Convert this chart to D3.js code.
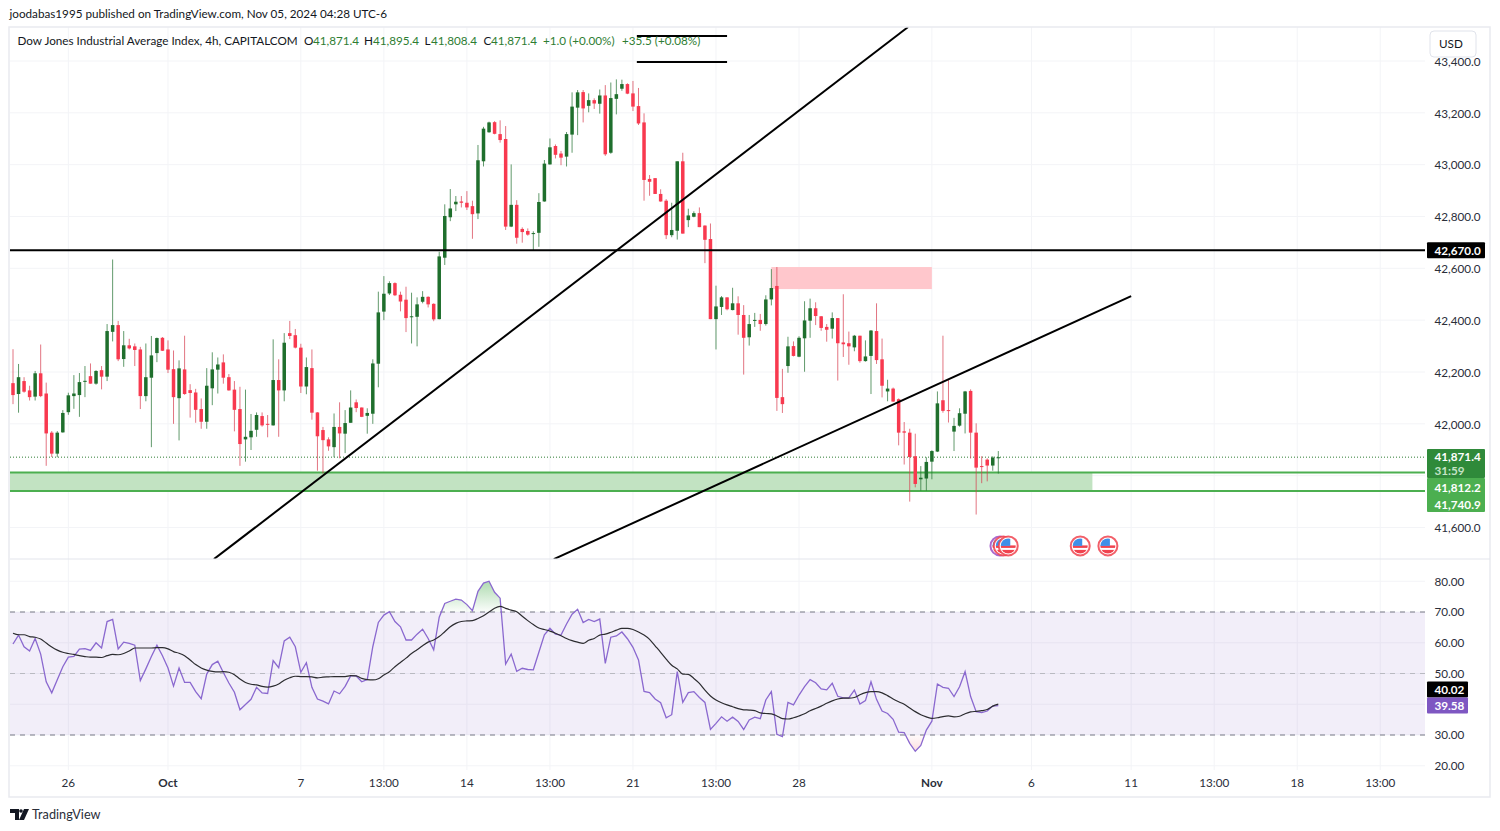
<!DOCTYPE html>
<html>
<head>
<meta charset="utf-8">
<script src="https://cdn.jsdelivr.net/npm/d3@7/dist/d3.min.js"></script>
<style>
html,body{margin:0;padding:0;background:#fff;}
svg{display:block;}
text{font-family:Lato,sans-serif;font-size:11.7px;fill:#131722;}
</style>
</head>
<body>
<div id="viz"></div>
<script>
var opens = [42157,42115,42165,42129,42105,42195,42117,41966,41885,41967,
42045,42107,42111,42162,42184,42155,42207,42182,42355,42381,
42250,42303,42299,42287,42107,42178,42273,42332,42287,42211,
42099,42210,42130,42121,42057,42008,42137,42209,42237,42180,
42132,42057,41940,41948,41977,42030,42000,41994,42169,42129,
42350,42342,42294,42144,42215,42044,41976,41940,41910,41988,
41962,42004,42083,42063,42031,42039,42232,42433,42503,42543,
42498,42479,42412,42413,42471,42490,42463,42404,42641,42797,
42847,42858,42853,42840,42812,43013,43125,43164,43118,43099,
42761,42845,42752,42744,42734,42737,42858,43001,43072,43043,
43031,43116,43220,43280,43227,43249,43235,43267,43046,43254,
43293,43311,43275,43226,43163,42945,42948,42887,42861,42728,
42745,43013,42786,42799,42813,42765,42713,42404,42451,42488,
42439,42465,42420,42334,42398,42401,42385,42480,42532,42103,
42223,42300,42259,42330,42398,42446,42415,42374,42367,42408,
42314,42311,42295,42340,42242,42262,42358,42249,42125,42136,
42095,41971,41966,41875,41786,41789,41854,41893,42091,42053,
41970,41993,42039,42127,41966,41837,41862,41839,41871];
var highs = [42288,42231,42180,42147,42204,42306,42159,41972,41972,42053,
42120,42188,42196,42223,42233,42207,42223,42385,42634,42397,
42358,42328,42310,42297,42310,42339,42333,42335,42322,42283,
42245,42340,42153,42135,42098,42215,42276,42256,42268,42192,
42165,42143,42132,42038,42044,42044,42034,42326,42249,42350,
42397,42366,42309,42256,42287,42045,41988,41948,42040,42083,
42053,42129,42094,42063,42060,42249,42510,42570,42550,42546,
42510,42529,42506,42488,42512,42492,42465,42664,42847,42906,
42879,42879,42898,42861,43076,43146,43166,43168,43171,43149,
43001,42863,42758,42754,42743,42890,43018,43101,43078,43053,
43126,43279,43288,43288,43275,43256,43290,43307,43317,43329,
43328,43314,43323,43296,43198,42960,42948,42905,42867,42853,
43013,43046,42830,42820,42835,42766,42773,42533,42493,42488,
42525,42492,42458,42420,42428,42424,42496,42597,42605,42212,
42336,42318,42338,42473,42483,42469,42416,42385,42430,42408,
42500,42356,42343,42340,42322,42362,42465,42329,42170,42140,
42098,42007,41981,41962,41837,41871,41898,42125,42340,42172,
42023,42060,42127,42133,42002,41875,41867,41875,41895];
var lows = [42076,42043,42120,42090,42090,42103,41838,41872,41871,41966,
42035,42058,42027,42103,42155,42151,42133,42165,42318,42242,
42220,42287,42223,42057,42087,41910,42238,42281,42196,42000,
41936,42112,42024,42004,41981,41981,42072,42117,42155,42128,
41971,41838,41854,41899,41950,41989,41948,41993,41950,42087,
42327,42291,42119,42114,42016,41819,41809,41896,41871,41867,
41887,42004,42045,42026,41962,42000,42141,42400,42497,42493,
42434,42354,42310,42299,42465,42449,42396,42403,42613,42782,
42821,42835,42825,42714,42790,42993,43123,43117,43085,42748,
42759,42695,42699,42726,42671,42683,42857,43000,43024,42998,
42993,43046,43114,43163,43202,43215,43197,43034,43042,43194,
43285,43272,43207,43153,42861,42880,42887,42857,42713,42720,
42711,42734,42759,42797,42759,42620,42404,42287,42420,42438,
42438,42344,42190,42302,42374,42359,42379,42457,42050,42042,
42197,42260,42257,42201,42332,42381,42359,42317,42329,42167,
42258,42228,42280,42236,42240,42115,42231,42102,42087,42084,
41917,41843,41700,41755,41742,41742,41786,41891,42043,42005,
41895,41989,41963,41866,41650,41771,41778,41819,41808];
var closes = [42111,42180,42124,42103,42195,42107,41963,41885,41966,42042,
42110,42117,42161,42166,42155,42204,42182,42358,42381,42249,
42303,42291,42285,42107,42180,42264,42331,42282,42209,42103,
42214,42115,42119,42054,42008,42147,42210,42229,42178,42129,
42054,41922,41950,41973,42034,41994,41997,42169,42129,42313,
42339,42294,42144,42219,42043,41952,41937,41913,41988,41963,
42003,42063,42061,42027,42042,42233,42430,42502,42543,42496,
42472,42408,42415,42461,42490,42461,42403,42646,42802,42831,
42857,42853,42835,42809,43017,43139,43163,43119,43095,42761,
42845,42718,42740,42730,42736,42856,43004,43067,43038,43027,
43118,43224,43279,43217,43249,43236,43267,43040,43257,43272,
43311,43274,43224,43159,42941,42934,42887,42858,42728,42748,
43013,42734,42804,42813,42759,42710,42404,42453,42488,42442,
42465,42420,42332,42385,42401,42385,42480,42524,42100,42076,
42299,42262,42332,42399,42446,42416,42370,42363,42408,42311,
42307,42299,42340,42242,42260,42360,42246,42147,42136,42086,
41966,41966,41872,41768,41792,41853,41895,42079,42050,42051,
41992,42041,42125,41966,41831,41835,41839,41870,41871];

var rsi = [59.6,62.5,58.7,57.3,61.4,56.3,47.3,43.7,48.0,52.2,55.3,55.6,57.9,58.1,57.5,60.0,58.3,66.9,67.6,58.0,
60.2,59.8,59.2,47.7,51.5,55.5,59.2,55.8,51.8,45.9,51.8,47.1,47.1,44.1,41.8,49.8,52.9,54.0,50.3,46.9,
43.9,38.2,39.9,41.6,45.5,43.7,43.5,54.2,51.9,60.6,61.8,58.7,50.4,53.5,45.5,41.7,41.0,40.1,44.3,43.4,
45.8,49.2,49.2,47.3,48.0,58.7,66.6,69.0,70.1,66.9,65.2,60.9,60.9,62.8,64.4,61.4,57.7,68.3,72.8,73.5,
74.2,73.9,72.4,70.4,76.7,79.4,80.0,76.4,74.5,53.1,56.3,50.7,51.7,51.3,51.2,56.9,62.6,64.7,62.8,62.5,
66.1,69.3,70.9,66.6,67.6,66.9,67.7,53.3,61.8,62.2,63.5,61.3,58.5,54.4,44.2,43.8,41.7,40.5,35.6,36.6,
50.6,40.6,43.8,44.1,42.2,40.6,31.8,33.8,35.9,34.5,35.8,34.4,31.8,34.9,35.8,35.3,41.4,44.1,30.2,29.5,
40.6,39.8,43.0,45.7,48.0,47.0,45.0,44.7,46.8,42.6,42.1,42.1,44.6,40.1,41.2,47.3,41.6,37.8,37.0,35.1,
30.9,30.8,27.3,24.7,26.6,31.6,34.5,46.6,45.5,45.2,42.5,45.7,50.6,42.5,37.6,37.3,37.8,39.4,39.58];
var rsiMa = [63.1,62.6,62.6,62.0,61.8,61.2,59.9,58.6,57.6,56.9,56.5,56.2,55.8,55.5,55.3,55.3,55.2,55.8,56.2,56.1,
56.5,57.3,58.3,58.3,58.3,58.3,58.4,58.4,58.0,57.1,56.6,55.8,54.4,52.9,51.8,51.1,50.7,50.5,50.6,50.4,
49.6,48.2,47.1,46.5,46.3,45.8,45.6,45.9,46.6,47.8,48.6,49.1,49.0,49.0,48.9,48.6,48.8,48.9,49.0,49.0,
49.0,49.3,49.2,48.4,48.0,47.9,48.3,49.5,50.6,52.2,53.6,55.0,56.5,57.7,59.0,60.2,60.9,62.0,63.6,65.2,
66.3,66.9,67.1,67.2,67.9,68.8,70.0,71.2,71.8,71.2,70.6,70.1,68.6,67.2,65.9,64.8,64.3,63.8,63.1,62.3,
61.4,60.7,60.2,59.8,60.8,61.4,62.5,62.8,63.4,64.1,64.7,64.7,64.3,63.5,62.5,61.1,59.0,56.9,54.7,52.7,
51.5,49.8,49.7,48.4,46.8,44.6,42.7,41.4,40.5,39.8,39.2,38.6,38.2,38.1,37.9,37.2,37.0,36.9,36.2,35.3,
35.2,35.6,36.2,36.9,37.9,38.6,39.4,40.3,41.1,41.7,42.0,42.0,42.2,43.1,43.8,44.1,44.1,43.7,42.8,41.7,
40.8,40.0,38.8,37.6,36.6,35.9,35.4,35.6,36.0,36.2,35.9,36.1,36.9,37.5,37.7,37.9,38.3,39.4,40.02];

var timeBars = [10,28,52,67,82,97,112,127,142,166,184,202,217,232,247];
var timeLabels = ['26','Oct','7','13:00','14','13:00','21','13:00','28','Nov','6','11','13:00','18','13:00'];
var priceTicks = [41600,41800,42000,42200,42400,42600,42800,43000,43200,43400];
var rsiTicks = [20,30,40,50,60,70,80];

// drawings on the chart: [bar, price] ends
var trendA = [[36.3,41478],[161.7,43531]];
var trendB = [[97.7,41478],[202,42493]];
var shortLines = [[[112.7,43496],[129,43496]],[[112.7,43396],[129,43396]]];
var resistance = 42670;
var lastPrice = 41871.4;
var zoneTop = 41812.2, zoneBottom = 41740.9, zoneEndBar = 195;
var pinkBars = [137,166], pinkPrices = [42605,42520];
var eventBars = [178.3,178.9,179.8,192.8,197.8];
var eventColors = ['#9c4fc4','#f0434f','#f0434f','#f0434f','#f0434f'];
var eventPrice = 41529;

var legendParts = [
  {x:17.5,t:'Dow Jones Industrial Average Index, 4h, CAPITALCOM',c:'#131722'},
  {x:304,t:'O',c:'#131722'},{x:313,t:'41,871.4',c:'#2e7d32'},
  {x:364,t:'H',c:'#131722'},{x:373,t:'41,895.4',c:'#2e7d32'},
  {x:424.5,t:'L',c:'#131722'},{x:431,t:'41,808.4',c:'#2e7d32'},
  {x:483.5,t:'C',c:'#131722'},{x:491,t:'41,871.4',c:'#2e7d32'},
  {x:543,t:'+1.0 (+0.00%)',c:'#2e7d32'},{x:622,t:'+35.5 (+0.08%)',c:'#2e7d32'}
];

var green = '#1f6f2d', red = '#f8394f';
var paneL = 10, paneR = 1425, paneT = 27, paneB = 559, rsiB = 770, frameR = 1490, frameB = 797;

var svg = d3.select('#viz').append('svg').attr('width',1500).attr('height',831);
var defs = svg.append('defs');

var x = d3.scaleLinear().domain([0,178]).range([13,998.3]);
var y = d3.scaleLinear().domain([41600,43400]).range([527.5,61]);
var ry = d3.scaleLinear().domain([30,70]).range([735,612]);
var fmt = d3.format(',.1f');

defs.append('clipPath').attr('id','priceClip').append('rect')
  .attr('x',paneL).attr('y',paneT).attr('width',paneR-paneL).attr('height',paneB-paneT);
defs.append('clipPath').attr('id','above70').append('rect')
  .attr('x',paneL).attr('y',560).attr('width',paneR-paneL).attr('height',ry(70)-560);
defs.append('clipPath').attr('id','below30').append('rect')
  .attr('x',paneL).attr('y',ry(30)).attr('width',paneR-paneL).attr('height',rsiB-ry(30));
var gradG = defs.append('linearGradient').attr('id','obFill').attr('x1',0).attr('x2',0).attr('y1',ry(80)).attr('y2',ry(70)).attr('gradientUnits','userSpaceOnUse');
gradG.append('stop').attr('offset',0).attr('stop-color','#4caf50').attr('stop-opacity',0.45);
gradG.append('stop').attr('offset',1).attr('stop-color','#4caf50').attr('stop-opacity',0.02);
var gradR = defs.append('linearGradient').attr('id','osFill').attr('x1',0).attr('x2',0).attr('y1',ry(30)).attr('y2',ry(20)).attr('gradientUnits','userSpaceOnUse');
gradR.append('stop').attr('offset',0).attr('stop-color','#f23645').attr('stop-opacity',0.02);
gradR.append('stop').attr('offset',1).attr('stop-color','#f23645').attr('stop-opacity',0.3);

// header
svg.append('text').attr('x',9.5).attr('y',18).text('joodabas1995 published on TradingView.com, Nov 05, 2024 04:28 UTC-6');

// grid
var grid = svg.append('g').attr('stroke','#f3f4f7').attr('stroke-width',1);
grid.selectAll('.v').data(timeBars).enter().append('line')
  .attr('x1',function(d){return x(d);}).attr('x2',function(d){return x(d);})
  .attr('y1',paneT).attr('y2',rsiB);
grid.selectAll('.h').data(priceTicks).enter().append('line')
  .attr('x1',paneL).attr('x2',paneR)
  .attr('y1',function(d){return y(d);}).attr('y2',function(d){return y(d);});
grid.selectAll('.r').data(rsiTicks).enter().append('line')
  .attr('x1',paneL).attr('x2',paneR)
  .attr('y1',function(d){return ry(d);}).attr('y2',function(d){return ry(d);});

// price pane
var pane = svg.append('g').attr('clip-path','url(#priceClip)');

pane.append('rect')
  .attr('x',x(pinkBars[0])).attr('width',x(pinkBars[1])-x(pinkBars[0]))
  .attr('y',y(pinkPrices[0])).attr('height',y(pinkPrices[1])-y(pinkPrices[0]))
  .attr('fill','#ffc7cc');

pane.append('rect')
  .attr('x',paneL).attr('width',x(zoneEndBar)-paneL)
  .attr('y',y(zoneTop)).attr('height',y(zoneBottom)-y(zoneTop))
  .attr('fill','#c2e3c2');
[zoneTop,zoneBottom].forEach(function(p){
  pane.append('line').attr('x1',paneL).attr('x2',paneR).attr('y1',y(p)).attr('y2',y(p))
    .attr('stroke','#4caf50').attr('stroke-width',2);
});

pane.append('line').attr('x1',paneL).attr('x2',paneR).attr('y1',y(lastPrice)).attr('y2',y(lastPrice))
  .attr('stroke','#2e7d32').attr('stroke-dasharray','1 2').attr('stroke-width',1);

// candles
var candleData = opens.map(function(o,i){return {i:i,o:o,h:highs[i],l:lows[i],c:closes[i]};});
var candle = pane.selectAll('.candle').data(candleData).enter().append('g');
candle.append('line')
  .attr('x1',function(d){return x(d.i);}).attr('x2',function(d){return x(d.i);})
  .attr('y1',function(d){return y(d.h);}).attr('y2',function(d){return y(d.l);})
  .attr('stroke',function(d){return d.c>=d.o?green:'#d63a4d';})
  .attr('stroke-width',1).attr('stroke-opacity',0.7);
candle.append('rect')
  .attr('x',function(d){return x(d.i)-1.75;}).attr('width',3.5)
  .attr('y',function(d){return y(Math.max(d.o,d.c));})
  .attr('height',function(d){return Math.max(1,Math.abs(y(d.o)-y(d.c)));})
  .attr('fill',function(d){return d.c>=d.o?green:red;});

// black drawings
var priceLine = d3.line().x(function(d){return x(d[0]);}).y(function(d){return y(d[1]);});
pane.append('line').attr('x1',paneL).attr('x2',paneR).attr('y1',y(resistance)).attr('y2',y(resistance))
  .attr('stroke','#000').attr('stroke-width',2);
[trendA,trendB].concat(shortLines).forEach(function(l){
  pane.append('path').attr('d',priceLine(l)).attr('fill','none').attr('stroke','#000').attr('stroke-width',2);
});

// event flags
var flags = pane.selectAll('.flag').data(eventBars).enter().append('g')
  .attr('transform',function(d){return 'translate('+x(d)+','+y(eventPrice)+')';});
flags.each(function(d,i){
  var g = d3.select(this);
  var id = 'flag'+i;
  defs.append('clipPath').attr('id',id).append('circle').attr('r',7.5);
  g.append('circle').attr('r',9.5).attr('fill','#fff').attr('stroke',eventColors[i]).attr('stroke-width',2).attr('stroke-opacity',0.85);
  var f = g.append('g').attr('clip-path','url(#'+id+')');
  f.append('rect').attr('x',-8).attr('y',-8).attr('width',16).attr('height',16).attr('fill','#fff');
  f.append('rect').attr('x',-8).attr('y',-0.5).attr('width',16).attr('height',2.5).attr('fill','#f0434f');
  f.append('rect').attr('x',-8).attr('y',4).attr('width',16).attr('height',4).attr('fill','#f0434f');
  f.append('rect').attr('x',-8).attr('y',-8).attr('width',10).attr('height',8).attr('fill','#3f8fe8');
});

// legend line
svg.selectAll('.legend').data(legendParts).enter().append('text')
  .attr('x',function(d){return d.x;}).attr('y',45)
  .style('fill',function(d){return d.c;})
  .text(function(d){return d.t;});

// rsi pane
svg.append('rect').attr('x',paneL).attr('width',paneR-paneL)
  .attr('y',ry(70)).attr('height',ry(30)-ry(70)).attr('fill','#7e57c2').attr('fill-opacity',0.1);
[[70,'#787b86',1],[50,'#b9bac1',1],[30,'#787b86',1]].forEach(function(d){
  svg.append('line').attr('x1',paneL).attr('x2',paneR).attr('y1',ry(d[0])).attr('y2',ry(d[0]))
    .attr('stroke',d[1]).attr('stroke-dasharray','5 5').attr('stroke-width',d[2]);
});

var rsiArea70 = d3.area().x(function(d,i){return x(i);}).y0(ry(70)).y1(function(d){return ry(d);});
var rsiArea30 = d3.area().x(function(d,i){return x(i);}).y0(ry(30)).y1(function(d){return ry(d);});
svg.append('path').attr('d',rsiArea70(rsi)).attr('fill','url(#obFill)').attr('clip-path','url(#above70)');
svg.append('path').attr('d',rsiArea30(rsi)).attr('fill','url(#osFill)').attr('clip-path','url(#below30)');

var rsiLine = d3.line().x(function(d,i){return x(i);}).y(function(d){return ry(d);});
svg.append('path').attr('d',rsiLine(rsi)).attr('fill','none').attr('stroke','#8a68cf').attr('stroke-width',1.3);
svg.append('path').attr('d',rsiLine.curve(d3.curveMonotoneX)(rsiMa)).attr('fill','none').attr('stroke','#2c2c30').attr('stroke-width',1.2);

// frame
svg.append('path')
  .attr('d','M'+(paneL-1)+','+paneT+'H'+frameR+'V'+frameB+'H'+(paneL-1)+'Z')
  .attr('fill','none').attr('stroke','#e9eaf0').attr('stroke-width',1.5);
svg.append('line').attr('x1',paneL).attr('x2',frameR).attr('y1',paneB).attr('y2',paneB)
  .attr('stroke','#e3e5ec').attr('stroke-width',1);

// axes
var priceAxis = d3.axisRight(y).tickValues(priceTicks).tickFormat(fmt).tickSize(0).tickPadding(0);
var gp = svg.append('g').attr('transform','translate(1434.5,0.5)').call(priceAxis);
var rsiAxis = d3.axisRight(ry).tickValues(rsiTicks).tickFormat(d3.format('.2f')).tickSize(0).tickPadding(0);
var gr = svg.append('g').attr('transform','translate(1434.5,0)').call(rsiAxis);
var timeAxis = d3.axisBottom(x).tickValues(timeBars).tickFormat(function(d,i){return timeLabels[i];}).tickSize(0).tickPadding(0);
var gt = svg.append('g').attr('transform','translate(-0.5,778.5)').call(timeAxis);
[gp,gr,gt].forEach(function(g){
  g.select('.domain').remove();
  g.attr('font-family',null).attr('font-size',null);
  g.selectAll('text').style('fill','#2a2e39');
});
gt.selectAll('text').style('font-weight',function(d,i){return isNaN(+timeLabels[i]) && timeLabels[i].indexOf(':')<0 ? 700 : 400;});

// usd box
svg.append('rect').attr('x',1430).attr('y',31).attr('width',46).attr('height',26).attr('rx',4)
  .attr('fill','#fff').attr('stroke','#e0e3eb');
svg.append('text').attr('x',1439).attr('y',48).text('USD');

// price tags
function tag(top,h,w,color,lines){
  svg.append('rect').attr('x',1427).attr('y',top).attr('width',w).attr('height',h).attr('fill',color).attr('rx',1);
  lines.forEach(function(l){
    svg.append('text').attr('x',1434.5).attr('y',l[1]).style('fill',l[2]||'#fff').style('font-weight',700).text(l[0]);
  });
}
tag(y(resistance)-8,16,58,'#000',[[fmt(resistance),y(resistance)+4.5]]);
tag(449,29,58,'#2f8a3a',[[fmt(lastPrice),460.5],['31:59',475,'#c4e3c6']]);
tag(478,34,58,'#4caf50',[[fmt(zoneTop),491.5],[fmt(zoneBottom),508.5]]);
// the two rsi tags stack: the line's tag sits on its value, the average's sits just above
var rsiTagTop = ry(rsi[178])-8;
tag(rsiTagTop-16,16,41,'#000',[[rsiMa[178].toFixed(2),rsiTagTop-16+12.5]]);
tag(rsiTagTop,16,41,'#7e57c2',[[rsi[178].toFixed(2),rsiTagTop+12.5]]);

// logo
var logo = svg.append('g').attr('fill','#131722');
logo.append('path').attr('d','M10,809H19V820H15V813H10Z');
logo.append('circle').attr('cx',21).attr('cy',811).attr('r',1.8);
logo.append('path').attr('d','M24,809H29L24,820H19Z');
svg.append('text').attr('x',32).attr('y',818.5).style('font-size','12.7px').style('fill','#2a2e39').text('TradingView');
</script>
</body>
</html>
